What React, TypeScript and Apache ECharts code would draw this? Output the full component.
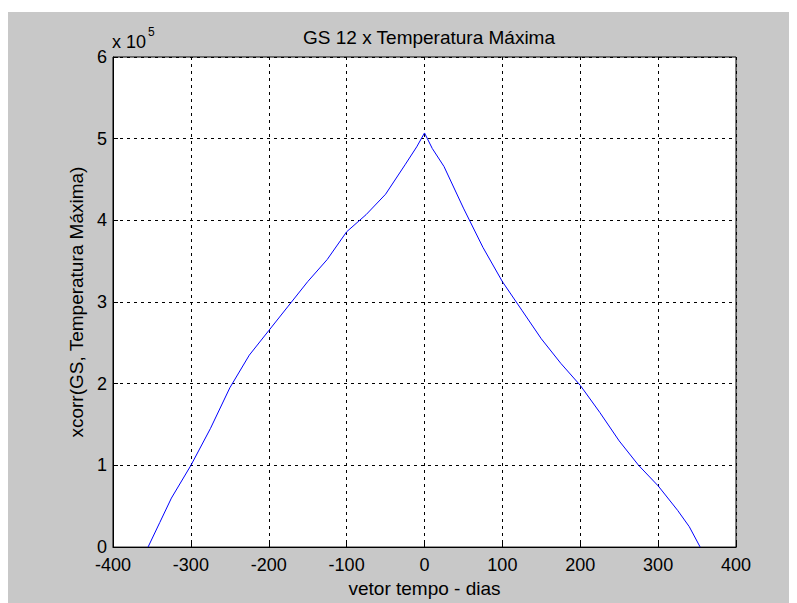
import React, { useEffect, useRef } from "react";
import * as echarts from "echarts";

const lagDays = [-355, -340, -325, -300, -275, -250, -225, -200, -175, -150, -125, -100, -75, -50, -25, -10, 0, 10, 25, 50, 75, 100, 125, 150, 175, 200, 225, 250, 275, 300, 325, 340, 354];
const xcorrValues = [0, 0.3, 0.6, 1.0, 1.45, 1.95, 2.35, 2.65, 2.95, 3.25, 3.52, 3.86, 4.07, 4.32, 4.68, 4.9, 5.07, 4.88, 4.66, 4.15, 3.67, 3.25, 2.9, 2.55, 2.25, 1.98, 1.65, 1.3, 1.0, 0.75, 0.45, 0.25, 0];

const titleText = "GS 12 x Temperatura Máxima";
const xName = "vetor tempo - dias";
const yName = "xcorr(GS, Temperatura Máxima)";
const exponentBase = "x 10";
const exponentPower = "5";

export default function App() {
  const ref = useRef<HTMLDivElement>(null);
  useEffect(() => {
    if (!ref.current) return;
    const chart = echarts.init(ref.current, null, { renderer: "svg" });
    const font = "Liberation Sans, Arial, sans-serif";
    chart.setOption({
      animation: false,
      backgroundColor: "#c8c8c8",
      textStyle: { fontFamily: font },
      title: {
        text: titleText,
        left: 424 - 8,
        top: 11,
        textAlign: "center",
        textStyle: { fontSize: 19, fontWeight: "normal", color: "#000", fontFamily: font },
      },
      grid: {
        left: 105,
        top: 45,
        right: 61,
        bottom: 55,
        show: true,
        backgroundColor: "#fff",
        borderColor: "#000",
        borderWidth: 1,
      },
      xAxis: {
        type: "value",
        min: -400,
        max: 400,
        interval: 100,
        name: xName,
        nameLocation: "middle",
        nameGap: 31,
        nameTextStyle: { fontSize: 19, color: "#000", fontFamily: font },
        axisLine: { show: true, onZero: false, lineStyle: { color: "#000" } },
        axisTick: { show: true, inside: true, length: 5, lineStyle: { color: "#000" } },
        axisLabel: { fontSize: 18, lineHeight: 16, color: "#000", margin: 10, fontFamily: font },
        splitLine: { show: true, lineStyle: { color: "#000", type: [3, 4], width: 1 } },
      },
      yAxis: {
        type: "value",
        min: 0,
        max: 6,
        interval: 1,
        name: yName,
        nameLocation: "middle",
        nameGap: 26,
        nameTextStyle: { fontSize: 19, color: "#000", fontFamily: font },
        axisLine: { show: true, onZero: false, lineStyle: { color: "#000" } },
        axisTick: { show: true, inside: true, length: 5, lineStyle: { color: "#000" } },
        axisLabel: { fontSize: 18, lineHeight: 15, color: "#000", margin: 6, fontFamily: font },
        splitLine: { show: true, lineStyle: { color: "#000", type: [3, 4], width: 1 } },
      },
      graphic: [
        {
          type: "text",
          x: 104,
          y: 30,
          style: {
            text: exponentBase,
            fontSize: 18,
            fill: "#000",
            fontFamily: font,
            textVerticalAlign: "middle",
          },
        },
        {
          type: "text",
          x: 140,
          y: 20,
          style: {
            text: exponentPower,
            fontSize: 12,
            fill: "#000",
            fontFamily: font,
            textVerticalAlign: "middle",
          },
        },
      ],
      series: [
        {
          type: "line",
          data: lagDays.map((d, i) => [d, xcorrValues[i]]),
          showSymbol: false,
          symbol: "none",
          lineStyle: { color: "#0000ff", width: 1 },
          itemStyle: { color: "#0000ff" },
        },
      ],
    });
    return () => chart.dispose();
  }, []);
  return <div ref={ref} style={{ width: 789, height: 591, marginTop: 4 }} />;
}
